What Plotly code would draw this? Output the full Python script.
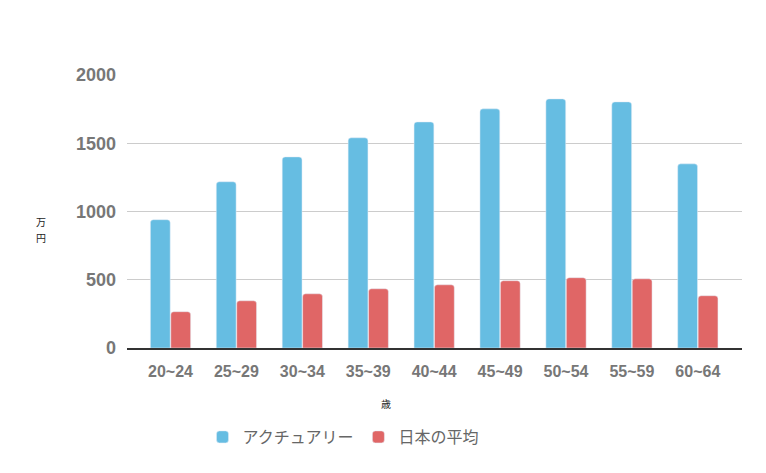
import plotly.graph_objects as go

categories = ["20~24", "25~29", "30~34", "35~39", "40~44", "45~49", "50~54", "55~59", "60~64"]
actuary = [940, 1218, 1400, 1540, 1656, 1752, 1825, 1803, 1349]
japan_avg = [266, 346, 397, 434, 463, 493, 515, 507, 383]
series_names = ["アクチュアリー", "日本の平均"]
y_ticks = [0, 500, 1000, 1500, 2000]

W, H = 766, 473
L, R, T, B = 127, 24, 75, 125
pw, ph = W - L - R, H - T - B

def px(x):
    return (x - L) / pw

def py(y):
    return (H - B - y) / ph

xs = list(range(len(categories)))

fig = go.Figure()
fig.add_trace(go.Bar(x=xs, y=actuary, name=series_names[0], marker_color="#66BDE2"))
fig.add_trace(go.Bar(x=xs, y=japan_avg, name=series_names[1], marker_color="#E06666"))

jp = "Noto Sans CJK JP"
fig.update_layout(
    width=W, height=H,
    margin=dict(l=L, r=R, t=T, b=B),
    plot_bgcolor="white", paper_bgcolor="white",
    barmode="group", bargap=0.38, bargroupgap=0.03, barcornerradius=3,
    legend=dict(orientation="h", x=px(343), xanchor="center", y=py(437), yanchor="middle",
                font=dict(size=16, color="#666", family=jp),
                traceorder="normal"),
    xaxis=dict(range=[-0.66, 8.67], tickvals=xs, ticktext=categories,
               showline=True, linecolor="#333", linewidth=1.5, ticks="", showgrid=False,
               ticklabelstandoff=8,
               tickfont=dict(size=16, color="#777", family="Liberation Sans", weight="bold")),
    yaxis=dict(range=[0, 2000], tickvals=y_ticks, showgrid=True, gridcolor="#ccc",
               zeroline=False, ticks="", ticklabelstandoff=10,
               tickfont=dict(size=18, color="#777", family="Liberation Sans", weight="bold")),
)
ann_font = dict(size=10, color="#222", family=jp)
fig.add_annotation(text="万", x=px(41), y=py(221), xref="paper", yref="paper",
                   xanchor="center", yanchor="middle", showarrow=False, borderpad=0,
                   font=ann_font)
fig.add_annotation(text="円", x=px(41), y=py(237), xref="paper", yref="paper",
                   xanchor="center", yanchor="middle", showarrow=False, borderpad=0,
                   font=ann_font)
fig.add_annotation(text="歳", x=px(386), y=py(403), xref="paper", yref="paper",
                   xanchor="center", yanchor="middle", showarrow=False, font=ann_font)
fig.write_html("out.html")
